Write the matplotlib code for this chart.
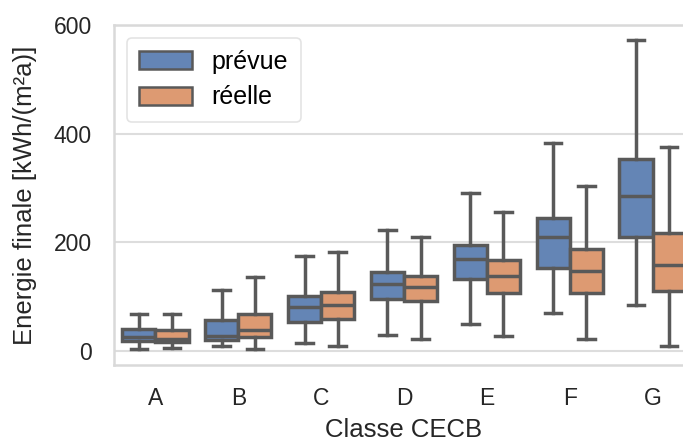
import numpy as np
import matplotlib
matplotlib.use("Agg")
import matplotlib.pyplot as plt
from matplotlib.patches import Patch

# Data
classes = ["A", "B", "C", "D", "E", "F", "G"]

prevue_whislo = [3, 8, 14, 29, 49, 70, 83]
prevue_q1 = [18, 20, 53, 95, 131, 152, 210]
prevue_med = [25, 27, 80, 123, 169, 209, 285]
prevue_q3 = [40, 57, 101, 145, 194, 245, 354]
prevue_whishi = [67, 112, 174, 222, 291, 383, 572]

reelle_whislo = [4, 3, 9, 22, 27, 21, 8]
reelle_q1 = [16, 24, 58, 91, 106, 106, 109]
reelle_med = [22, 38, 84, 117, 138, 146, 157]
reelle_q3 = [37, 68, 107, 138, 166, 187, 216]
reelle_whishi = [67, 135, 181, 209, 255, 304, 376]

series = ["prévue", "réelle"]
colors = ["#6485B5", "#DD9A72"]
edge = "#595959"

plt.rcParams["font.family"] = ["Liberation Sans", "DejaVu Sans"]

fig = plt.figure(figsize=(6.83, 4.41), dpi=100)
ax = fig.add_axes([0.167, 0.172, 0.849, 0.771])


def make_stats(lo, q1, med, q3, hi):
    return [dict(whislo=a, q1=b, med=c, q3=d, whishi=e, fliers=[])
            for a, b, c, d, e in zip(lo, q1, med, q3, hi)]


groups = [
    make_stats(prevue_whislo, prevue_q1, prevue_med, prevue_q3, prevue_whishi),
    make_stats(reelle_whislo, reelle_q1, reelle_med, reelle_q3, reelle_whishi),
]

x = np.arange(len(classes))
lw = 2.5
for i, (stats, col) in enumerate(zip(groups, colors)):
    ax.bxp(stats, positions=x + (i - 0.5) * 0.4, widths=0.4,
           patch_artist=True, showfliers=False, manage_ticks=False,
           boxprops=dict(facecolor=col, edgecolor=edge, linewidth=lw),
           medianprops=dict(color=edge, linewidth=lw),
           whiskerprops=dict(color=edge, linewidth=lw),
           capprops=dict(color=edge, linewidth=lw),
           capwidths=0.2, zorder=3)

ax.set_xlim(-0.5, len(classes) - 0.5)
ax.set_ylim(-27, 600)
ax.set_xticks(x)
ax.set_xticklabels(classes)
ax.set_yticks([0, 200, 400, 600])

ax.grid(axis="y", color="#dddddd", linewidth=1.5, zorder=0)
ax.set_axisbelow(True)
for s in ax.spines.values():
    s.set_color("#d9d9d9")
    s.set_linewidth(1.8)
ax.tick_params(length=0, labelsize=16.5, colors="#262626", pad=16)

ax.set_xlabel("Classe CECB", fontsize=18.5, color="#262626")
ax.set_ylabel("Energie finale [kWh/(m²a)]", fontsize=18.5, color="#262626")
ax.xaxis.set_label_coords(0.5, -0.191)
ax.yaxis.set_label_coords(-0.153, 0.5)
ax.xaxis.label.set_va("center")
ax.yaxis.label.set_va("center")

handles = [Patch(facecolor=c, edgecolor=edge, linewidth=1.8, label=s)
           for c, s in zip(colors, series)]
leg = ax.legend(handles=handles, loc="upper left", fontsize=18,
                frameon=True, fancybox=True, edgecolor="#dddddd",
                handlelength=2.1, handleheight=0.72, borderpad=0.5,
                labelspacing=0.45, handletextpad=0.8)
leg.get_frame().set_linewidth(1.2)

fig.savefig("out.png", dpi=100)
